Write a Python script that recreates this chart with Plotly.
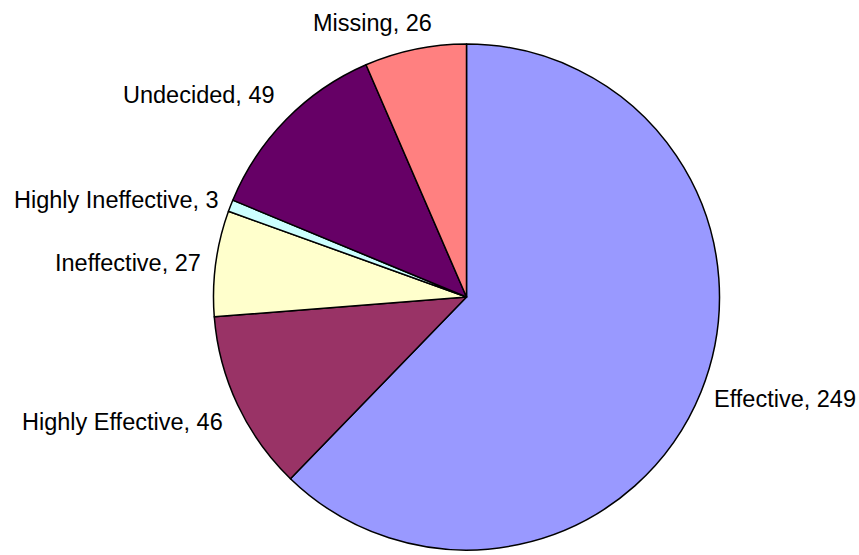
import plotly.graph_objects as go

categories = ["Effective", "Highly Effective", "Ineffective", "Highly Ineffective", "Undecided", "Missing"]
values = [249, 46, 27, 3, 49, 26]
colors = ["#9999FF", "#993366", "#FFFFCC", "#CCFFFF", "#660066", "#FF8080"]

W, H = 859, 555

fig = go.Figure(go.Pie(
    labels=categories,
    values=values,
    sort=False,
    direction="clockwise",
    rotation=0,
    marker=dict(colors=colors, line=dict(color="#000000", width=1.5)),
    textinfo="none",
    hoverinfo="label+value",
    showlegend=False,
    domain=dict(x=[213 / W, 720 / W], y=[1 - 550 / H, 1 - 44 / H]),
))

# label placement (pixel positions in the 859x555 canvas)
label_pos = {
    "Effective": (712, 399, "left"),
    "Highly Effective": (225, 422, "right"),
    "Ineffective": (203, 263, "right"),
    "Highly Ineffective": (221, 200, "right"),
    "Undecided": (277, 95, "right"),
    "Missing": (372, 23, "center"),
}

annotations = []
for cat, val in zip(categories, values):
    px, py, anchor = label_pos[cat]
    annotations.append(dict(
        text=f"{cat}, {val}",
        x=px / W, y=1 - py / H,
        xref="paper", yref="paper",
        xanchor=anchor, yanchor="middle",
        showarrow=False,
        font=dict(family="Liberation Sans, Arial, sans-serif", size=23.5, color="#000000"),
    ))

fig.update_layout(
    width=W, height=H,
    margin=dict(l=0, r=0, t=0, b=0),
    paper_bgcolor="#FFFFFF",
    plot_bgcolor="#FFFFFF",
    annotations=annotations,
)

fig.write_html(
    "out.html",
    config={"displayModeBar": False},
    post_script="document.body.style.margin='0';document.body.style.overflow='hidden';",
)
